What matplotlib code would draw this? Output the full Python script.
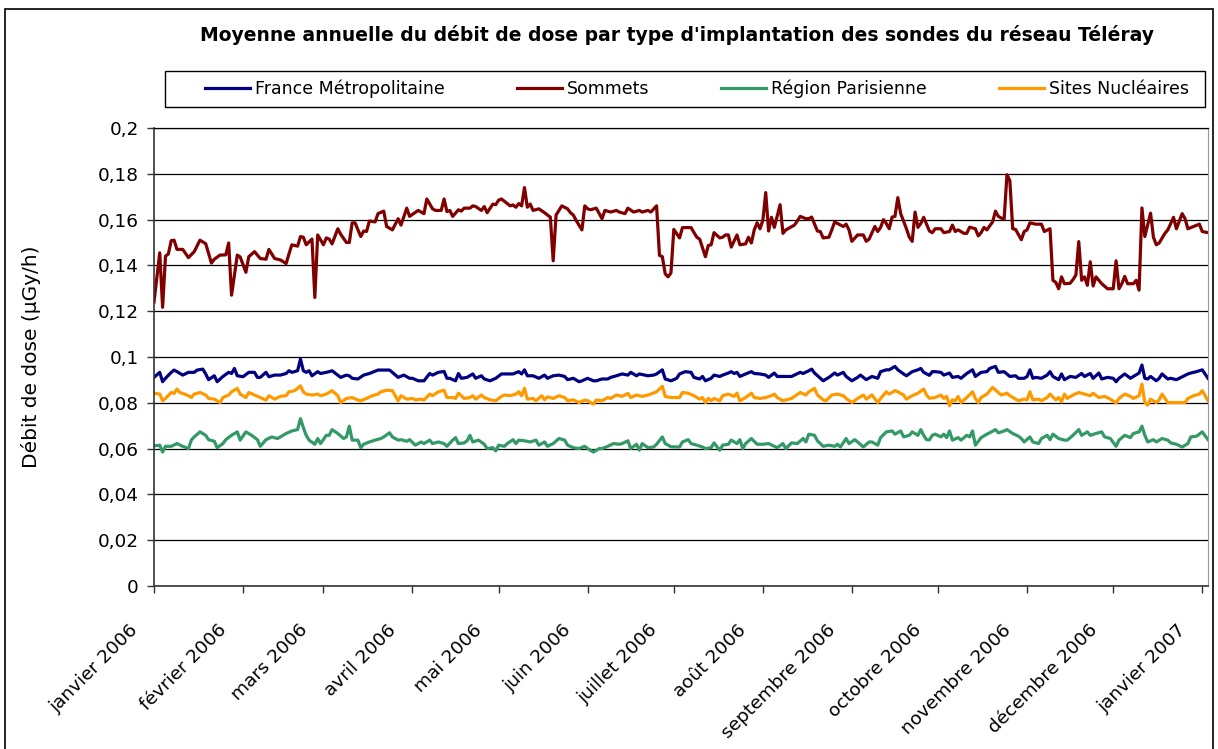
import numpy as np
import pandas as pd
import matplotlib
matplotlib.use("Agg")
import matplotlib.pyplot as plt
import matplotlib.dates as mdates
from matplotlib.patches import Rectangle
from matplotlib.ticker import FuncFormatter, MultipleLocator
from matplotlib.transforms import ScaledTranslation

# day offsets from 1 January 2006, values in µGy/h
sommets_days = [
    0, 2, 3, 4, 5, 6, 7, 8, 10, 12, 14, 16, 18, 20, 21, 23, 25, 26, 27, 29,
    30, 32, 33, 35, 37, 39, 40, 42, 44, 46, 47, 48, 50, 51, 52, 53, 55, 56, 57, 59,
    60, 61, 62, 64, 65, 67, 68, 69, 70, 72, 73, 74, 75, 77, 78, 80, 81, 83, 85, 86,
    88, 89, 90, 92, 94, 95, 97, 98, 100, 101, 102, 103, 104, 106, 107, 108, 110, 111, 112, 114,
    115, 116, 118, 119, 120, 121, 123, 124, 125, 126, 127, 128, 129, 130, 131, 132, 134, 136, 137, 138,
    139, 140, 142, 144, 145, 146, 147, 149, 150, 151, 152, 154, 156, 157, 159, 161, 162, 164, 165, 167,
    169, 170, 172, 173, 175, 176, 177, 178, 179, 180, 181, 183, 184, 187, 189, 190, 192, 193, 194, 195,
    197, 198, 199, 200, 201, 203, 204, 206, 207, 208, 209, 210, 211, 212, 213, 214, 215, 216, 218, 219,
    220, 223, 224, 225, 227, 228, 229, 231, 232, 233, 235, 236, 237, 238, 240, 241, 242, 243, 245, 247,
    248, 249, 251, 252, 253, 254, 255, 256, 257, 258, 259, 260, 262, 263, 264, 265, 266, 267, 268, 270,
    271, 272, 274, 275, 277, 278, 279, 280, 282, 283, 284, 286, 287, 288, 289, 290, 292, 293, 294, 296,
    297, 298, 299, 300, 302, 303, 304, 305, 307, 309, 310, 312, 313, 314, 315, 316, 317, 319, 320, 321,
    322, 323, 324, 325, 326, 327, 328, 330, 332, 334, 335, 336, 337, 338, 339, 341, 342, 343, 344, 345,
    347, 348, 349, 350, 352, 353, 355, 356, 358, 359, 360, 362, 364, 365, 367,
]
sommets_vals = [
    0.124, 0.1455, 0.1217, 0.144, 0.145, 0.1508, 0.151, 0.147, 0.147, 0.1434, 0.146, 0.151, 0.1495, 0.141, 0.1427, 0.1445, 0.1446, 0.1498, 0.127, 0.1445,
    0.1437, 0.137, 0.1438, 0.146, 0.143, 0.1427, 0.147, 0.143, 0.1424, 0.1408, 0.145, 0.149, 0.1484, 0.1526, 0.1523, 0.149, 0.1515, 0.126, 0.1533, 0.149,
    0.152, 0.1515, 0.1494, 0.156, 0.1536, 0.150, 0.150, 0.1586, 0.1586, 0.1526, 0.155, 0.1548, 0.1594, 0.159, 0.1626, 0.1637, 0.157, 0.1555, 0.1604, 0.1576,
    0.165, 0.1614, 0.1623, 0.164, 0.1626, 0.169, 0.1647, 0.164, 0.164, 0.169, 0.1635, 0.164, 0.1614, 0.1643, 0.1637, 0.165, 0.165, 0.166, 0.1657, 0.164,
    0.1657, 0.163, 0.1668, 0.1665, 0.1685, 0.169, 0.167, 0.166, 0.1664, 0.1654, 0.167, 0.166, 0.174, 0.1654, 0.1668, 0.164, 0.1647, 0.163, 0.162, 0.1611,
    0.142, 0.162, 0.166, 0.1647, 0.163, 0.162, 0.1596, 0.1555, 0.166, 0.1647, 0.1643, 0.165, 0.1604, 0.164, 0.1633, 0.164, 0.1633, 0.1626, 0.165, 0.1633,
    0.164, 0.1633, 0.164, 0.1633, 0.166, 0.1444, 0.1438, 0.1363, 0.135, 0.1367, 0.1557, 0.152, 0.1565, 0.1565, 0.1523, 0.1515, 0.1438, 0.1487, 0.149, 0.1543,
    0.152, 0.1523, 0.1533, 0.1533, 0.148, 0.1533, 0.149, 0.1494, 0.1523, 0.1498, 0.1555, 0.1586, 0.156, 0.1597, 0.1718, 0.155, 0.161, 0.1566, 0.1665, 0.154,
    0.1555, 0.1576, 0.1594, 0.1614, 0.1604, 0.1604, 0.1611, 0.155, 0.1548, 0.152, 0.1523, 0.1555, 0.159, 0.1583, 0.157, 0.158, 0.1555, 0.1505, 0.1533, 0.1533,
    0.1505, 0.1515, 0.157, 0.1548, 0.1566, 0.16, 0.1583, 0.156, 0.1611, 0.1614, 0.1696, 0.1626, 0.156, 0.1523, 0.1505, 0.1633, 0.1566, 0.1583, 0.161, 0.155,
    0.1543, 0.156, 0.156, 0.1543, 0.1548, 0.1576, 0.1548, 0.1555, 0.154, 0.154, 0.1567, 0.156, 0.1529, 0.1543, 0.1566, 0.1555, 0.159, 0.1637, 0.1614, 0.16,
    0.1796, 0.177, 0.156, 0.1557, 0.1512, 0.1548, 0.1555, 0.1586, 0.158, 0.158, 0.1548, 0.156, 0.1335, 0.1326, 0.1298, 0.135, 0.132, 0.1322, 0.1338, 0.1358,
    0.1504, 0.1335, 0.135, 0.1313, 0.1416, 0.131, 0.135, 0.132, 0.1298, 0.1298, 0.142, 0.1298, 0.132, 0.1352, 0.132, 0.132, 0.1335, 0.1292, 0.1651, 0.1526,
    0.1628, 0.1523, 0.149, 0.1498, 0.154, 0.1555, 0.161, 0.156, 0.1626, 0.1604, 0.156, 0.157, 0.158, 0.1548, 0.1543,
]

france_days = [
    0, 2, 3, 4, 6, 7, 8, 10, 12, 14, 15, 17, 18, 19, 21, 22, 24, 26, 27, 28,
    29, 31, 33, 35, 36, 37, 39, 40, 42, 44, 46, 47, 48, 50, 51, 52, 53, 54, 55, 57,
    58, 60, 61, 62, 64, 65, 67, 68, 69, 71, 73, 75, 76, 78, 79, 82, 83, 85, 87, 89,
    90, 92, 94, 96, 97, 99, 101, 102, 103, 105, 106, 107, 109, 111, 112, 114, 115, 117, 119, 121,
    123, 125, 127, 128, 129, 130, 132, 134, 136, 137, 139, 141, 143, 144, 146, 148, 149, 151, 153, 154,
    156, 158, 159, 161, 163, 165, 166, 168, 169, 172, 174, 175, 177, 178, 180, 182, 183, 185, 187, 188,
    190, 191, 192, 194, 195, 197, 198, 200, 201, 202, 203, 204, 206, 208, 209, 211, 213, 214, 216, 217,
    219, 222, 223, 225, 226, 228, 229, 230, 232, 233, 235, 237, 238, 240, 241, 243, 245, 246, 248, 250,
    252, 253, 255, 256, 258, 259, 261, 262, 264, 266, 267, 268, 270, 271, 272, 274, 275, 277, 278, 280,
    281, 283, 285, 286, 288, 290, 291, 293, 294, 296, 298, 300, 301, 303, 304, 305, 306, 307, 309, 311,
    312, 313, 315, 316, 317, 319, 321, 323, 324, 326, 327, 329, 330, 332, 334, 335, 336, 338, 340, 341,
    343, 344, 345, 346, 347, 349, 350, 351, 353, 354, 356, 357, 360, 361, 363, 365, 367,
]
france_vals = [
    0.0911, 0.0933, 0.0892, 0.0907, 0.0933, 0.0943, 0.0936, 0.0921, 0.0933, 0.0933, 0.0943, 0.0947, 0.0926, 0.0901, 0.0918, 0.0892, 0.0915, 0.0933, 0.0928, 0.095,
    0.0918, 0.0914, 0.0933, 0.0933, 0.0911, 0.0911, 0.0933, 0.0914, 0.0921, 0.0921, 0.0928, 0.094, 0.0933, 0.094, 0.0991, 0.094, 0.0933, 0.094, 0.0918, 0.0936,
    0.0928, 0.0933, 0.0936, 0.094, 0.0921, 0.0911, 0.0921, 0.0918, 0.0907, 0.0904, 0.0921, 0.0928, 0.0933, 0.0943, 0.0943, 0.0943, 0.0933, 0.0911, 0.0921, 0.0907,
    0.0907, 0.0896, 0.0896, 0.0928, 0.0921, 0.0933, 0.0937, 0.0907, 0.0907, 0.0896, 0.0928, 0.0907, 0.0911, 0.0926, 0.0907, 0.0918, 0.0904, 0.0896, 0.0907, 0.0926,
    0.0926, 0.0926, 0.0936, 0.0926, 0.0944, 0.0918, 0.0918, 0.0907, 0.0921, 0.0907, 0.0918, 0.0921, 0.0915, 0.0901, 0.0907, 0.0892, 0.0896, 0.0907, 0.0896, 0.0896,
    0.0904, 0.0904, 0.0911, 0.0918, 0.0926, 0.0921, 0.0933, 0.0918, 0.0926, 0.0918, 0.0921, 0.0926, 0.0944, 0.0904, 0.0896, 0.0907, 0.0926, 0.0936, 0.0933, 0.0911,
    0.0904, 0.0915, 0.0896, 0.0907, 0.0921, 0.0915, 0.0921, 0.093, 0.0936, 0.0928, 0.0933, 0.0915, 0.0926, 0.0936, 0.0928, 0.0926, 0.0921, 0.0911, 0.093, 0.0915,
    0.0915, 0.0915, 0.0921, 0.0933, 0.0928, 0.094, 0.0947, 0.093, 0.0907, 0.0896, 0.0911, 0.093, 0.0921, 0.0933, 0.0915, 0.0896, 0.0911, 0.0921, 0.0901, 0.0915,
    0.0907, 0.0936, 0.0944, 0.0944, 0.0959, 0.0944, 0.0926, 0.0918, 0.0936, 0.0944, 0.095, 0.0933, 0.092, 0.0936, 0.0936, 0.0933, 0.0921, 0.093, 0.0911, 0.0915,
    0.0907, 0.0928, 0.0944, 0.0915, 0.0933, 0.0936, 0.095, 0.0959, 0.0933, 0.0936, 0.0915, 0.0918, 0.0907, 0.0907, 0.0915, 0.0944, 0.0907, 0.0911, 0.0907, 0.0921,
    0.0936, 0.0915, 0.0901, 0.0926, 0.0901, 0.0915, 0.0911, 0.0928, 0.0915, 0.0928, 0.0907, 0.093, 0.0904, 0.0911, 0.0907, 0.0892, 0.0907, 0.0926, 0.0907, 0.0915,
    0.093, 0.0965, 0.0907, 0.0904, 0.0915, 0.0896, 0.0907, 0.0926, 0.0904, 0.0907, 0.0901, 0.0907, 0.0926, 0.093, 0.0936, 0.0944, 0.0907,
]

parisienne_days = [
    0, 2, 3, 4, 6, 8, 10, 12, 13, 14, 16, 18, 19, 21, 22, 24, 25, 27, 29, 30,
    32, 34, 36, 37, 39, 41, 43, 44, 46, 48, 50, 51, 52, 53, 54, 56, 57, 58, 60, 61,
    62, 64, 66, 67, 68, 69, 71, 72, 73, 75, 77, 79, 80, 82, 83, 85, 86, 88, 89, 91,
    92, 93, 94, 96, 97, 99, 101, 102, 104, 105, 106, 108, 109, 110, 111, 113, 115, 116, 118, 119,
    120, 122, 123, 125, 126, 127, 129, 131, 133, 134, 136, 137, 139, 141, 143, 144, 146, 148, 150, 151,
    153, 155, 156, 158, 160, 162, 163, 165, 166, 168, 169, 170, 172, 174, 175, 177, 178, 180, 183, 184,
    186, 187, 189, 191, 192, 194, 195, 197, 198, 200, 201, 203, 204, 205, 206, 208, 210, 212, 214, 217,
    219, 220, 222, 224, 226, 227, 228, 230, 231, 233, 235, 237, 238, 239, 241, 242, 244, 245, 247, 249,
    250, 252, 253, 255, 257, 258, 260, 261, 263, 264, 266, 267, 268, 269, 270, 271, 272, 274, 275, 276,
    277, 278, 280, 281, 283, 284, 285, 286, 288, 290, 291, 293, 294, 296, 297, 299, 301, 302, 303, 305,
    306, 308, 309, 311, 312, 313, 315, 317, 318, 320, 322, 323, 325, 326, 328, 330, 331, 333, 335, 336,
    338, 340, 341, 343, 344, 345, 346, 348, 349, 351, 353, 354, 356, 358, 360, 361, 363, 365, 367,
]
parisienne_vals = [
    0.0612, 0.0615, 0.0585, 0.061, 0.061, 0.0622, 0.061, 0.06, 0.0637, 0.0651, 0.0673, 0.0658, 0.0639, 0.0632, 0.0604, 0.0622, 0.0639, 0.0658, 0.0673, 0.0637,
    0.0673, 0.0658, 0.0639, 0.061, 0.0639, 0.0651, 0.0644, 0.0651, 0.0666, 0.0677, 0.0683, 0.0731, 0.0692, 0.0658, 0.0637, 0.0619, 0.0644, 0.0622, 0.0658, 0.0658,
    0.0683, 0.0666, 0.0644, 0.0651, 0.0698, 0.0637, 0.0637, 0.0604, 0.0619, 0.0629, 0.0637, 0.0644, 0.0651, 0.0669, 0.0651, 0.0637, 0.0639, 0.0632, 0.0639, 0.0615,
    0.0622, 0.0629, 0.0622, 0.0637, 0.0622, 0.0629, 0.0622, 0.061, 0.0637, 0.0648, 0.0622, 0.0625, 0.0634, 0.0658, 0.0629, 0.0637, 0.0619, 0.06, 0.0604, 0.059,
    0.0615, 0.061, 0.0622, 0.0639, 0.0622, 0.0637, 0.0634, 0.0629, 0.0637, 0.0615, 0.0629, 0.061, 0.0622, 0.0644, 0.0637, 0.0615, 0.0604, 0.06, 0.061, 0.06,
    0.0585, 0.06, 0.06, 0.061, 0.0622, 0.0619, 0.0622, 0.0634, 0.06, 0.0619, 0.0593, 0.0622, 0.0604, 0.0607, 0.0619, 0.0651, 0.0622, 0.0608, 0.0607, 0.0629,
    0.0639, 0.0622, 0.0615, 0.0607, 0.06, 0.0604, 0.0625, 0.0593, 0.0615, 0.0619, 0.0637, 0.0622, 0.0639, 0.06, 0.0622, 0.0644, 0.0619, 0.0619, 0.0622, 0.0604,
    0.0622, 0.06, 0.0625, 0.0622, 0.0644, 0.0629, 0.0663, 0.0658, 0.0634, 0.061, 0.0615, 0.061, 0.0619, 0.0607, 0.0644, 0.0622, 0.0639, 0.0629, 0.0607, 0.0629,
    0.0629, 0.0615, 0.0648, 0.0673, 0.0677, 0.0663, 0.0677, 0.0651, 0.0658, 0.0673, 0.0658, 0.0683, 0.0658, 0.0639, 0.0638, 0.0658, 0.0663, 0.0651, 0.0663, 0.0648,
    0.0677, 0.0637, 0.0648, 0.0637, 0.0658, 0.0651, 0.0677, 0.0615, 0.0648, 0.0663, 0.0669, 0.0683, 0.0669, 0.0677, 0.0683, 0.0666, 0.0654, 0.0644, 0.0629, 0.0651,
    0.0629, 0.0622, 0.0644, 0.0658, 0.0639, 0.0663, 0.0644, 0.0637, 0.0637, 0.0658, 0.0683, 0.0658, 0.0673, 0.0658, 0.0666, 0.0673, 0.0651, 0.0644, 0.061, 0.0637,
    0.0658, 0.0648, 0.0666, 0.0673, 0.0698, 0.0658, 0.0629, 0.0639, 0.0629, 0.0644, 0.0637, 0.0625, 0.0619, 0.0607, 0.0622, 0.0651, 0.0654, 0.0673, 0.0639,
]

nucleaires_days = [
    0, 2, 3, 4, 6, 7, 8, 9, 10, 12, 13, 14, 16, 18, 19, 21, 23, 24, 26, 27,
    29, 30, 32, 33, 35, 37, 39, 40, 42, 44, 46, 47, 49, 51, 52, 53, 55, 57, 58, 60,
    62, 64, 65, 67, 69, 71, 72, 74, 76, 78, 79, 81, 83, 85, 86, 88, 90, 91, 93, 94,
    96, 97, 99, 101, 102, 104, 105, 106, 108, 110, 111, 112, 114, 115, 117, 119, 121, 122, 124, 126,
    127, 128, 129, 130, 132, 133, 135, 136, 137, 139, 141, 143, 144, 146, 148, 150, 151, 153, 154, 156,
    158, 159, 161, 163, 165, 166, 168, 170, 172, 173, 175, 177, 178, 180, 183, 184, 186, 188, 190, 191,
    192, 193, 194, 195, 197, 198, 200, 202, 203, 204, 206, 208, 209, 211, 213, 215, 216, 217, 219, 222,
    223, 225, 227, 228, 230, 231, 233, 234, 236, 238, 240, 241, 243, 245, 247, 248, 250, 252, 253, 255,
    256, 258, 259, 261, 262, 264, 266, 268, 269, 270, 272, 274, 275, 276, 277, 278, 279, 280, 281, 283,
    285, 286, 287, 288, 290, 292, 294, 295, 297, 298, 300, 301, 303, 304, 305, 306, 308, 309, 311, 312,
    314, 315, 316, 317, 318, 320, 322, 324, 326, 327, 329, 331, 333, 335, 336, 338, 340, 341, 343, 344,
    345, 346, 347, 349, 350, 351, 353, 355, 357, 359, 360, 362, 364, 365, 367,
]
nucleaires_vals = [
    0.0842, 0.0838, 0.0809, 0.0819, 0.0845, 0.0841, 0.086, 0.0845, 0.0841, 0.0831, 0.0823, 0.0838, 0.0845, 0.0834, 0.0819, 0.0816, 0.0801, 0.0823, 0.0834, 0.0848,
    0.0863, 0.0838, 0.0823, 0.0845, 0.0834, 0.0823, 0.0812, 0.0831, 0.0816, 0.0828, 0.0831, 0.0848, 0.0853, 0.0874, 0.0848, 0.0838, 0.0834, 0.0838, 0.0831, 0.0838,
    0.0853, 0.0831, 0.0801, 0.0819, 0.0823, 0.0812, 0.0809, 0.0819, 0.0831, 0.0838, 0.0848, 0.0855, 0.0853, 0.0809, 0.0831, 0.0816, 0.0819, 0.0813, 0.0816, 0.0812,
    0.0838, 0.0831, 0.0848, 0.0855, 0.0823, 0.0823, 0.0819, 0.0842, 0.0819, 0.0823, 0.0831, 0.0816, 0.0834, 0.0823, 0.0813, 0.0809, 0.0828, 0.0834, 0.0831, 0.0838,
    0.0848, 0.0831, 0.0863, 0.0816, 0.0819, 0.0809, 0.0831, 0.0813, 0.0826, 0.0819, 0.0831, 0.0823, 0.0809, 0.0813, 0.0801, 0.0812, 0.0809, 0.0794, 0.0812, 0.0809,
    0.0823, 0.0819, 0.0834, 0.0828, 0.0841, 0.0823, 0.0834, 0.0828, 0.0834, 0.0838, 0.0848, 0.0872, 0.0828, 0.0823, 0.0823, 0.0845, 0.0842, 0.0831, 0.0816, 0.0823,
    0.0801, 0.0819, 0.0809, 0.0819, 0.0809, 0.0831, 0.0838, 0.0828, 0.0842, 0.0809, 0.0823, 0.0842, 0.0823, 0.0819, 0.0823, 0.0831, 0.0838, 0.0823, 0.0809, 0.0819,
    0.0828, 0.0845, 0.0834, 0.0848, 0.0863, 0.0834, 0.0813, 0.0809, 0.0834, 0.0838, 0.0831, 0.0819, 0.0801, 0.0819, 0.0834, 0.0816, 0.0834, 0.0801, 0.0819, 0.0848,
    0.0838, 0.0853, 0.0848, 0.0834, 0.0816, 0.0831, 0.0842, 0.086, 0.0834, 0.082, 0.0823, 0.0834, 0.0819, 0.0828, 0.0787, 0.0813, 0.0809, 0.0828, 0.0801, 0.0823,
    0.0848, 0.0819, 0.0801, 0.0823, 0.0838, 0.0867, 0.0845, 0.0834, 0.0842, 0.0831, 0.0816, 0.0809, 0.0816, 0.0813, 0.0848, 0.0813, 0.0816, 0.0809, 0.0823, 0.0838,
    0.0813, 0.0823, 0.0804, 0.0838, 0.0819, 0.0834, 0.0845, 0.0838, 0.0831, 0.0842, 0.0823, 0.0828, 0.0816, 0.0799, 0.0819, 0.0838, 0.0828, 0.0819, 0.0831, 0.0882,
    0.0801, 0.079, 0.0816, 0.0801, 0.0813, 0.0838, 0.0801, 0.0801, 0.0801, 0.0801, 0.0819, 0.0831, 0.0838, 0.0853, 0.0809,
]

series_names = ["France Métropolitaine", "Sommets", "Région Parisienne", "Sites Nucléaires"]
series_colors = ["#000080", "#800000", "#339966", "#FF9900"]
mois = ["janvier", "février", "mars", "avril", "mai", "juin", "juillet",
        "août", "septembre", "octobre", "novembre", "décembre"]

start = pd.Timestamp("2006-01-01")


def to_dates(days):
    return start + pd.to_timedelta(days, unit="D")


W, H = 1218, 749
fig = plt.figure(figsize=(W / 100, H / 100), dpi=100)
ax = fig.add_axes([154 / W, 1 - 586 / H, (1208 - 154) / W, (586 - 128) / H])

all_series = [
    (france_days, france_vals),
    (sommets_days, sommets_vals),
    (parisienne_days, parisienne_vals),
    (nucleaires_days, nucleaires_vals),
]
for (d, v), name, c in zip(all_series, series_names, series_colors):
    ax.plot(to_dates(d), v, color=c, lw=2.3, label=name, solid_joinstyle="round")

ax.set_ylim(0, 0.2)
ax.set_xlim(to_dates([0])[0], to_dates([367])[0])
ax.yaxis.set_major_locator(MultipleLocator(0.02))
ax.yaxis.set_major_formatter(FuncFormatter(lambda v, p: f"{round(v, 2):g}".replace(".", ",")))
ax.grid(axis="y", color="black", lw=0.9)
ax.set_axisbelow(True)

ax.xaxis.set_major_locator(mdates.MonthLocator())
ax.xaxis.set_major_formatter(
    FuncFormatter(lambda x, p: f"{mois[mdates.num2date(x).month - 1]} {mdates.num2date(x).year}")
)
ax.tick_params(axis="both", direction="out", length=5, width=1, color="#333333",
               labelsize=13.3, pad=6)
for lab in ax.get_xticklabels():
    lab.set_rotation(45)
    lab.set_ha("right")
    lab.set_va("center")
    lab.set_rotation_mode("anchor")
    lab.set_transform(lab.get_transform() + ScaledTranslation(-0.19, -0.26, fig.dpi_scale_trans))

for s in ["left", "bottom"]:
    ax.spines[s].set_color("#333333")
    ax.spines[s].set_linewidth(1.2)
ax.spines["right"].set_color("#999999")
ax.spines["top"].set_color("black")
ax.spines["top"].set_linewidth(0.9)

ax.set_ylabel("Débit de dose (µGy/h)", fontsize=14.5)
ax.yaxis.set_label_coords(-0.107, 0.5)

fig.text(677 / W, 1 - 35 / H, "Moyenne annuelle du débit de dose par type d'implantation des sondes du réseau Téléray",
         ha="center", va="center", fontsize=13.5, fontweight="bold")

# legend box and entries
fig.add_artist(Rectangle((165 / W, 1 - 107 / H), (1205 - 165) / W, (107 - 71) / H,
                         transform=fig.transFigure, fill=False, ec="black", lw=1))
handles, labels = ax.get_legend_handles_labels()
fig.legend(handles, labels, loc="center left", ncol=4, mode="expand",
           bbox_to_anchor=(198 / W, 1 - 89 / H, (1196 - 198) / W, 0), frameon=False,
           fontsize=12.5, handlelength=2.6, handletextpad=0.3, borderaxespad=0)

# outer chart border
fig.add_artist(Rectangle((5 / W, -0.01), (1213 - 5) / W, 1.01 - 9 / H,
                         transform=fig.transFigure, fill=False, ec="black", lw=1.2))

fig.savefig("out.png", dpi=100)
